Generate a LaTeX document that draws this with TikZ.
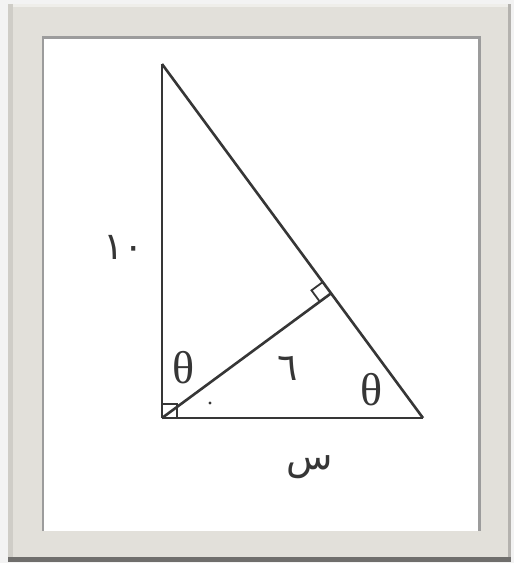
\documentclass[tikz,border=0pt]{standalone}
\usepackage{fontspec}
\usetikzlibrary{calc}
\newfontfamily\arabicfont[Script=Arabic]{DejaVu Sans}
\newfontfamily\thetafont{Liberation Serif}
\definecolor{framegray}{HTML}{E2E0DA}
\definecolor{frameleft}{HTML}{CFCDC7}
\definecolor{frameright}{HTML}{B4B2AE}
\definecolor{framebottom}{HTML}{6F6E6C}
\definecolor{framelight}{HTML}{EFEEEA}
\definecolor{innershadow}{HTML}{9C9C9C}
\definecolor{outside}{HTML}{F3F3F3}
\definecolor{inkgray}{HTML}{363636}
\tikzset{
  edge/.style={draw=inkgray, line width=2.6pt, line join=miter},
  rtmark/.style={draw=inkgray, line width=1.8pt},
  lbl/.style={inner sep=0pt, text=inkgray},
  arlbl/.style={lbl, font=\arabicfont\fontsize{38}{40}\selectfont},
  thlbl/.style={lbl, font=\thetafont\fontsize{46}{48}\selectfont},
}
\begin{document}
\begin{tikzpicture}[x=1pt,y=-1pt]
\useasboundingbox (0,0) rectangle (514,563);
% background and frame
\fill[outside] (0,0) rectangle (514,563);
\fill[framegray] (8,4) rectangle (511,559);
\fill[frameleft] (8,4) rectangle (13,559);
\fill[frameright] (508,4) rectangle (511,559);
\fill[framelight] (13,4) rectangle (508,7);
\fill[framebottom] (8,557) rectangle (511,562);
\fill[innershadow] (42,36) rectangle (481,531);
\fill[white] (44,39) rectangle (478,531);
% vertices
\coordinate (A) at (162,64);
\coordinate (C) at (162,418);
\coordinate (B) at (423,418);
\coordinate (D) at ($(A)!(C)!(B)$);
\coordinate (Da) at ($(D)!14pt!(A)$);
\coordinate (Dc) at ($(D)!14pt!(C)$);
\coordinate (Dx) at ($(Da)+(Dc)-(D)$);
% triangle
\draw[edge] (A) -- (C);
\draw[edge] (C) -- (B);
\draw[edge] (A) -- (B);
\draw[edge] (C) -- (D);
% right angle marks
\draw[rtmark] ($(C)+(0,-14)$) -- ++(15,0) -- ++(0,14);
\draw[rtmark] (Da) -- (Dx) -- (Dc);
% labels
\node[arlbl] (ten) at (124,247) {١٠};
\node[thlbl] (th1) at (184,368) {θ};
\node[arlbl] (six) at (288,368) {٦};
\node[thlbl] (th2) at (372,390) {θ};
\node[arlbl] (sin) at (310,467) {س};
\fill[inkgray] (210,403) circle (1.6) node[coordinate] (dot) {};
\end{tikzpicture}
\end{document}
